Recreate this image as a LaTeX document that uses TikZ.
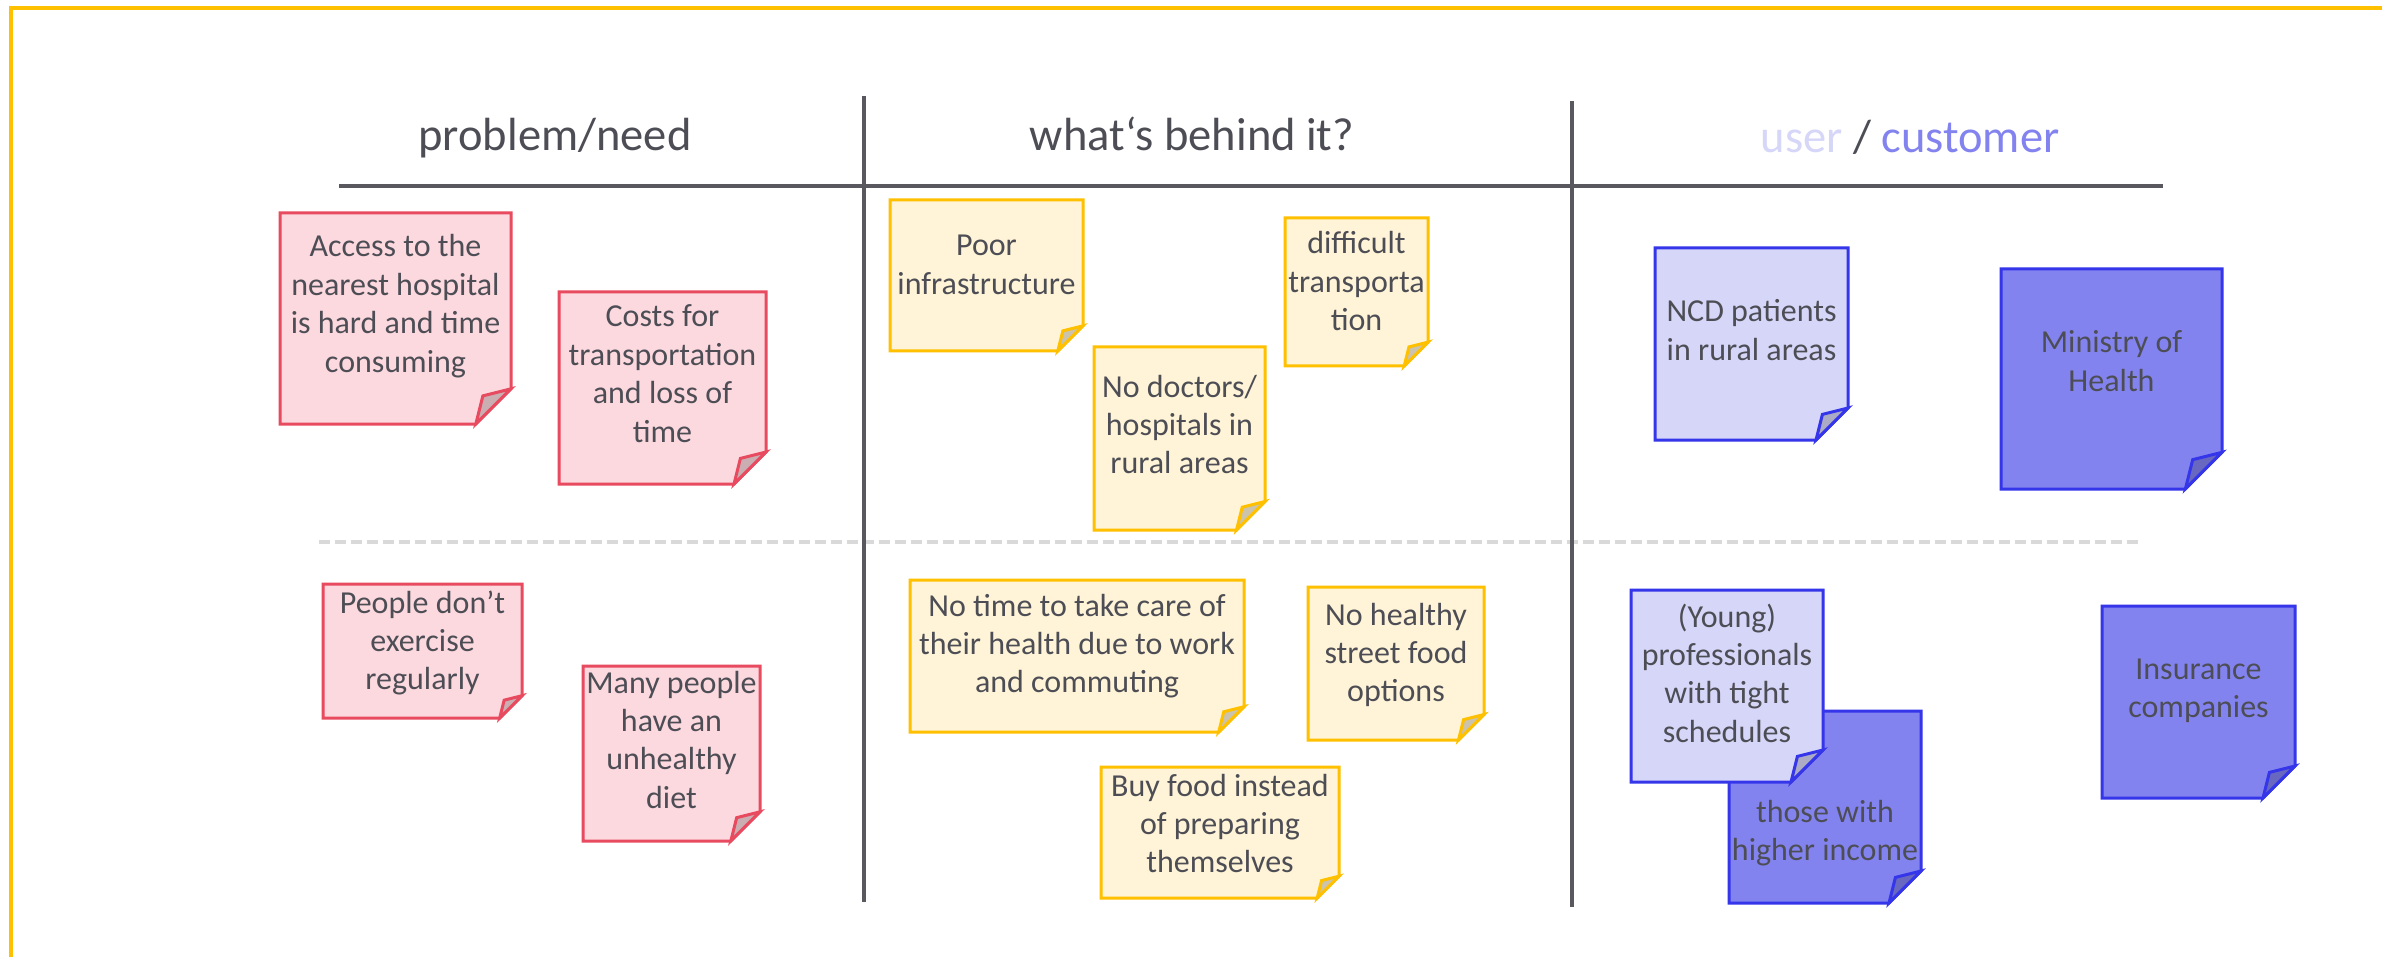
\documentclass[tikz,border=0pt]{standalone}
\usepackage{fontspec}
\setmainfont{Carlito}

\definecolor{frameyellow}{HTML}{FFC000}
\definecolor{rulegray}{HTML}{58585E}
\definecolor{dashgray}{HTML}{D9D9D9}
\definecolor{inkgray}{HTML}{4D4D55}
\definecolor{redfill}{HTML}{FCD9DE}
\definecolor{redline}{HTML}{E84A5F}
\definecolor{redflap}{HTML}{CAAEB2}
\definecolor{yelfill}{HTML}{FFF4D7}
\definecolor{yelline}{HTML}{FFC000}
\definecolor{yelflap}{HTML}{CCC3AC}
\definecolor{lblfill}{HTML}{D6D6F8}
\definecolor{lblline}{HTML}{3535EA}
\definecolor{lblflap}{HTML}{ABABC6}
\definecolor{dblfill}{HTML}{8383F0}
\definecolor{dblline}{HTML}{3535EA}
\definecolor{dblflap}{HTML}{6868C0}
\definecolor{userlight}{HTML}{D6D6F8}
\definecolor{custblue}{HTML}{8383F0}

\tikzset{
  notebody/.style={line width=3pt, line join=miter},
  notetext/.style={anchor=base, inner sep=0pt, text=inkgray,
    font=\fontsize{32}{38.4}\selectfont},
  headtext/.style={anchor=base, inner sep=0pt, text=inkgray,
    font=\fontsize{46.5}{56}\selectfont},
  rule/.style={draw=rulegray, line width=3.8pt},
  midrule/.style={draw=dashgray, line width=3.5pt, dash pattern=on 11pt off 5pt},
}

% Sticky note with a folded bottom-right corner.
% #1 name, #2 left, #3 top, #4 right, #5 bottom, #6 palette,
% #7 baseline of the first text line, #8 comma separated text lines
\newcommand\stickynote[8]{%
  \pgfmathsetmacro\nfold{min(#4-#2,#5-#3)/6}%
  \pgfmathsetmacro\nmid{(#2+#4)/2}%
  \path[notebody, fill=#6fill, draw=#6line]
    (#2,#3) -- (#4,#3) -- (#4,#5-\nfold) -- (#4-\nfold,#5) -- (#2,#5) -- cycle;
  \path[notebody, fill=#6flap, draw=#6line]
    (#4-\nfold,#5) -- (#4-0.8*\nfold,#5-0.8*\nfold) -- (#4,#5-\nfold) -- cycle;
  \foreach \noteline [count=\i from 0] in {#8}
    {\node[notetext] (#1-\i) at (\nmid,#7+\i*38.4) {\noteline};}%
}

\begin{document}
\begin{tikzpicture}[x=1pt,y=-1pt]
  \clip (0,0) rectangle (2382,957);
  \fill[white] (0,0) rectangle (2382,957);

  % outer frame, running off the right and bottom edges
  \draw[frameyellow, line width=4pt] (11,8.5) rectangle (2420,990);

  % column headings
  \node[headtext] (head-problem) at (555,151) {problem/need};
  \node[headtext] (head-behind) at (1192,151) {what‘s behind it?};
  \node[headtext] (head-user) at (1910,153)
    {\textcolor{userlight}{user} / \textcolor{custblue}{customer}};

  % grid lines
  \coordinate (mid-w) at (319,542);
  \coordinate (mid-e) at (2138,542);
  \draw[midrule] (mid-w) -- (mid-e);

  \coordinate (head-w) at (339,186);
  \coordinate (head-e) at (2163,186);
  \coordinate (col1-n) at (864,96);
  \coordinate (col1-s) at (864,902);
  \coordinate (col2-n) at (1572,101);
  \coordinate (col2-s) at (1572,907);
  \draw[rule] (head-w) -- (head-e);
  \draw[rule] (col1-n) -- (col1-s);
  \draw[rule] (col2-n) -- (col2-s);

  % problem / need
  \stickynote{acc}{280}{213}{511}{424}{red}{257}{Access to the,nearest hospital,is hard and time,consuming}
  \stickynote{cost}{559}{292}{766}{484}{red}{327}{Costs for,transportation,and loss of,time}
  \stickynote{exer}{323}{584}{522}{718}{red}{613}{People don’t,exercise,regularly}
  \stickynote{diet}{583}{666}{760}{841}{red}{693}{Many people,have an,unhealthy,diet}

  % what's behind it
  \stickynote{infra}{890}{200}{1083}{351}{yel}{256}{Poor,infrastructure}
  \stickynote{trans}{1285}{218}{1428}{366}{yel}{254}{difficult,transporta,tion}
  \stickynote{docs}{1094}{347}{1265}{530}{yel}{397}{No doctors/,hospitals in,rural areas}
  \stickynote{time}{910}{580}{1244}{732}{yel}{616}{No time to take care of,their health due to work,and commuting}
  \stickynote{street}{1308}{587}{1484}{740}{yel}{625}{No healthy,street food,options}
  \stickynote{buy}{1101}{767}{1339}{898}{yel}{796}{Buy food instead,of preparing,themselves}

  % user / customer
  \stickynote{ncd}{1655}{248}{1848}{440}{lbl}{322}{NCD patients,in rural areas}
  \stickynote{moh}{2001}{269}{2222}{489}{dbl}{353}{Ministry of,Health}
  \stickynote{income}{1729}{711}{1921}{903}{dbl}{822}{those with,higher income}
  \stickynote{young}{1631}{590}{1823}{782}{lbl}{627}{{(Young)},professionals,with tight,schedules}
  \stickynote{ins}{2102}{606}{2295}{798}{dbl}{679}{Insurance,companies}
\end{tikzpicture}
\end{document}
